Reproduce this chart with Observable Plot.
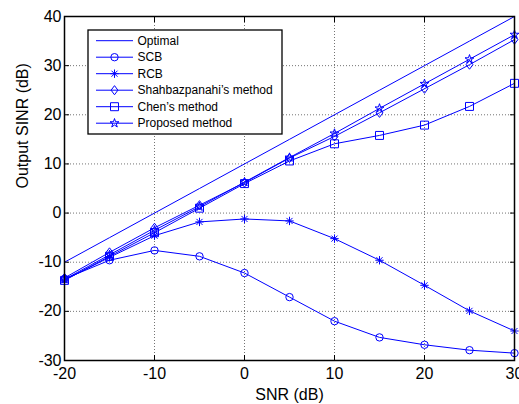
<!DOCTYPE html>
<html><head><meta charset="utf-8">
<script src="https://cdn.jsdelivr.net/npm/d3@7"></script>
<script src="https://cdn.jsdelivr.net/npm/@observablehq/plot@0.6"></script>
<style>body{margin:0;background:#fff;overflow:hidden}</style>
</head><body><div id="chart"></div>
<script>
const snr = [-20, -15, -10, -5, 0, 5, 10, 15, 20, 25, 30];
const optimal = [-10, -5, 0, 5, 10, 15, 20, 25, 30, 35, 40];
const scb = [-13.4, -9.6, -7.6, -8.8, -12.2, -17.1, -22, -25.3, -26.8, -27.9, -28.5];
const rcb = [-13.6, -9.0, -4.6, -1.8, -1.2, -1.6, -5.2, -9.6, -14.7, -19.9, -24];
const shahbazpanahi = [-13.2, -8.0, -3.0, 1.6, 6.2, 11.2, 15.6, 20.4, 25.3, 30.2, 35.3];
const chen = [-13.7, -8.8, -4.0, 1.0, 6.0, 10.6, 14.1, 15.8, 17.9, 21.7, 26.4];
const proposed = [-13.5, -8.5, -3.5, 1.3, 6.3, 11.3, 16.2, 21.3, 26.3, 31.3, 36.3];
const xTicks = [-20, -10, 0, 10, 20, 30];
const yTicks = [-30, -20, -10, 0, 10, 20, 30, 40];
const seriesNames = ["Optimal", "SCB", "RCB", "Shahbazpanahi\u2019s method", "Chen\u2019s method", "Proposed method"];
const seriesValues = [optimal, scb, rcb, shahbazpanahi, chen, proposed];

const blue = "#0000ff";
const font = "'Liberation Sans', Arial, Helvetica, sans-serif";

// marker shapes (MATLAB-like)
const asterisk = {draw(c, size) { const r = Math.sqrt(size / Math.PI);
  c.moveTo(0, -r); c.lineTo(0, r); c.moveTo(-r, 0); c.lineTo(r, 0);
  const d = r * 0.72; c.moveTo(-d, -d); c.lineTo(d, d); c.moveTo(-d, d); c.lineTo(d, -d); }};
const diamond = {draw(c, size) { const r = Math.sqrt(size / Math.PI);
  c.moveTo(0, -r * 1.2); c.lineTo(r * 0.9, 0); c.lineTo(0, r * 1.2); c.lineTo(-r * 0.9, 0); c.closePath(); }};
const markers = [
  null,
  {symbol: d3.symbolCircle, r: 3.7},
  {symbol: asterisk, r: 4.2},
  {symbol: diamond, r: 3.8},
  {symbol: d3.symbolSquare, r: 4.5},
  {symbol: d3.symbolStar, r: 2.8}
];

const rows = [];
seriesNames.forEach((name, i) => snr.forEach((x, j) => rows.push({series: name, idx: i, x, y: seriesValues[i][j]})));

const fmt = d => String(d);
const marks = [
  Plot.gridX(xTicks, {stroke: "#000", strokeOpacity: 0.55, strokeDasharray: "1,2"}),
  Plot.gridY(yTicks, {stroke: "#000", strokeOpacity: 0.55, strokeDasharray: "1,2"}),
  Plot.lineY(rows, {x: "x", y: "y", z: "series", stroke: blue, strokeWidth: 1}),
];
markers.forEach((m, i) => {
  if (!m) return;
  marks.push(Plot.dot(rows.filter(d => d.idx === i), {x: "x", y: "y", symbol: () => m.symbol, r: m.r, stroke: blue, fill: "none", strokeWidth: 1}));
});
marks.push(
  Plot.frame({stroke: "#000", strokeWidth: 1.5}),
  Plot.axisX(xTicks, {anchor: "bottom", tickSize: 0, tickPadding: 7, fontSize: 16, tickFormat: fmt}),
  Plot.axisY(yTicks, {anchor: "left", tickSize: 0, tickPadding: 3, fontSize: 16, tickFormat: fmt}),
  Plot.axisX(xTicks, {anchor: "bottom", tickSize: 5, dy: -5, tickFormat: () => "", label: null}),
  Plot.axisX(xTicks, {anchor: "top", tickSize: 5, dy: 5, tickFormat: () => "", label: null}),
  Plot.axisY(yTicks, {anchor: "left", tickSize: 5, dx: 5, tickFormat: () => "", label: null}),
  Plot.axisY(yTicks, {anchor: "right", tickSize: 5, dx: -5, tickFormat: () => "", label: null}),
  Plot.text(["SNR (dB)"], {frameAnchor: "bottom", dy: 34, fontSize: 16, lineAnchor: "middle"}),
  Plot.text(["Output SINR (dB)"], {frameAnchor: "left", dx: -42, rotate: -90, fontSize: 16, lineAnchor: "middle"})
);

const svg = Plot.plot({
  width: 519, height: 404,
  marginLeft: 64, marginRight: 5, marginTop: 16, marginBottom: 44,
  x: {domain: [-20, 30], label: null},
  y: {domain: [-30, 40], label: null},
  style: {fontFamily: font, color: "#000", background: "#fff"},
  marks
});

// legend box
const g = d3.select(svg).append("g").attr("font-family", font).attr("font-size", 12).attr("text-anchor", "start");
g.append("rect").attr("x", 88).attr("y", 30).attr("width", 194).attr("height", 104)
  .attr("fill", "#fff").attr("stroke", "#000").attr("stroke-width", 1.3);
seriesNames.forEach((name, i) => {
  const y = 40.7 + i * 16.5;
  g.append("line").attr("x1", 96).attr("x2", 133).attr("y1", y).attr("y2", y).attr("stroke", blue);
  const m = markers[i];
  if (m) {
    g.append("path").attr("transform", `translate(114.5,${y})`)
      .attr("d", d3.symbol(m.symbol, Math.PI * m.r * m.r)())
      .attr("fill", "none").attr("stroke", blue);
  }
  g.append("text").attr("x", 137.5).attr("y", y).attr("dy", "0.35em").attr("text-anchor", "start").attr("fill", "#000").text(name);
});

document.getElementById("chart").appendChild(svg);
</script>
</body></html>
